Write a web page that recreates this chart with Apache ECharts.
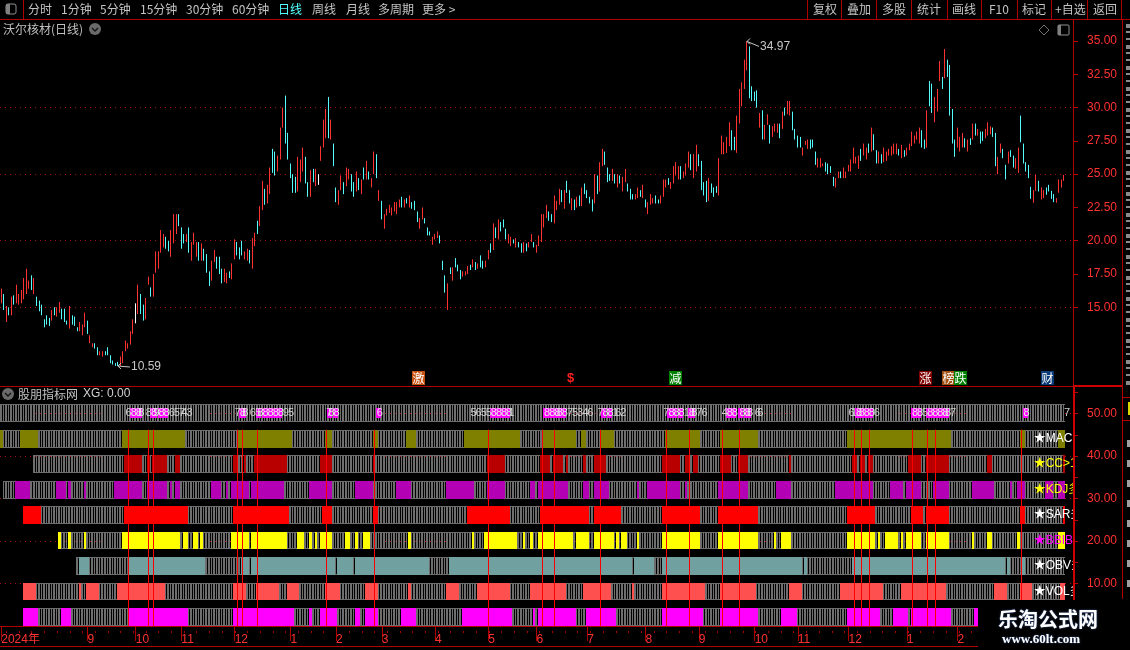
<!DOCTYPE html>
<html><head><meta charset="utf-8">
<style>html,body{margin:0;padding:0;background:#000}#c{width:1130px;height:650px}</style>
<script src="https://cdn.jsdelivr.net/npm/echarts@6/dist/echarts.min.js"></script>
</head><body><div id="c"></div>
<script>
const priceHigh=[
16.4,16.0,15.1,15.0,15.8,15.9,16.7,16.0,16.3,17.2,17.9,17.0,17.4,17.2,15.8,15.5,15.2,14.1,14.4,14.2,
14.8,15.0,15.0,15.4,14.9,14.9,14.0,15.1,14.4,14.3,13.5,13.9,13.7,14.6,14.0,12.9,12.3,12.3,12.0,11.7,
11.7,11.7,12.0,11.4,11.0,10.8,10.9,11.3,11.7,12.5,12.3,13.2,14.1,15.3,16.7,16.0,15.2,15.7,17.3,16.5,
17.5,19.2,19.2,20.8,20.5,20.3,20.0,20.8,22.0,22.0,22.0,21.0,20.5,20.5,21.0,19.9,20.6,19.9,19.9,19.8,
19.4,19.0,17.7,18.5,19.3,18.8,18.8,17.9,17.9,17.6,17.7,18.3,20.1,19.9,19.5,20.0,19.2,19.4,19.3,20.2,
20.6,21.5,22.6,24.5,23.9,24.2,25.5,26.9,26.7,26.4,28.5,30.0,30.9,28.1,25.8,25.0,24.8,26.3,26.1,27.0,
26.3,24.4,25.3,25.4,25.4,25.0,27.1,29.1,29.9,30.8,29.1,27.3,24.0,23.8,24.9,24.4,25.5,25.4,25.0,24.4,
25.2,24.7,24.6,25.5,26.0,25.2,24.7,26.7,26.5,23.8,
23.0,22.0,22.4,22.7,22.5,22.9,22.9,23.1,23.3,23.1,23.2,23.4,22.9,23.0,22.2,21.7,22.5,21.7,21.0,20.7,
20.3,20.5,20.7,20.4,18.5,17.4,16.8,18.0,18.0,18.7,18.2,17.8,17.7,17.7,18.1,18.2,18.6,18.4,18.3,18.9,
18.5,18.5,19.3,19.8,21.3,21.0,21.6,21.4,21.6,20.9,20.5,20.3,20.1,20.2,19.9,19.8,19.9,19.8,19.9,20.5,
19.9,19.7,20.4,22.0,22.0,22.7,22.2,22.0,23.4,23.0,23.9,23.8,23.8,24.5,23.8,23.2,23.1,23.3,23.4,24.0,
24.3,23.8,23.3,23.1,25.0,24.9,25.9,26.9,26.7,25.5,25.0,25.4,25.0,25.0,24.9,24.8,25.4,24.3,23.9,23.5,
23.5,24.0,23.8,24.2,23.1,22.9,23.5,23.2,23.4,23.1,23.4,24.6,24.6,24.7,24.4,25.6,25.9,25.6,25.6,25.2,
25.8,26.7,26.5,26.5,27.2,26.5,26.0,24.4,24.5,24.7,24.3,24.0,24.1,26.2,27.9,27.4,27.8,28.9,28.3,27.8,
29.4,31.4,31.9,33.6,34.97,34.6,
31.6,31.2,31.3,29.6,29.8,28.7,29.5,28.7,28.6,28.8,28.8,28.8,29.7,30.0,30.5,30.5,29.7,28.4,27.9,27.8,
27.0,27.5,27.6,27.6,27.6,26.7,26.2,26.2,25.8,25.9,25.8,25.6,24.8,24.7,25.2,25.2,25.5,25.2,25.7,26.1,
27.0,26.3,26.4,26.9,27.3,27.0,27.3,28.5,28.0,26.8,26.7,26.5,27.0,26.7,26.9,27.1,27.3,27.3,26.9,27.2,
26.8,27.0,27.3,28.2,27.9,28.2,28.5,28.3,27.6,29.8,32.0,31.8,30.8,31.4,33.5,32.3,34.4,33.6,33.2,29.9,
27.6,28.5,27.8,28.1,27.7,27.6,27.7,28.8,28.8,28.4,28.2,28.2,28.4,28.9,28.6,28.5,28.1,26.3,27.3,26.9,
25.7,26.7,26.8,26.4,26.2,27.0,29.4,27.3,25.9,25.7,
24.05,23.8,24.95,24.5,24.0,23.8,24.0,24.2,23.75,23.5,23.2,24.6,24.6,24.95];
const priceLow=[
15.3,14.8,13.9,14.4,14.4,15.2,15.3,15.2,15.3,15.6,16.0,16.4,16.3,16.0,15.1,14.7,14.4,13.5,13.7,13.6,
14.0,14.4,14.3,14.6,14.1,13.9,13.7,13.4,13.7,13.6,13.2,13.2,12.9,13.5,13.0,12.3,12.0,11.9,11.4,11.4,
11.3,11.4,11.4,10.8,10.7,10.6,10.59,10.6,10.8,11.7,11.9,12.2,13.0,13.8,14.5,14.5,14.0,14.1,16.7,15.8,
15.8,17.6,17.9,19.1,19.5,19.4,19.2,18.8,19.8,20.5,21.1,19.4,19.8,19.9,19.1,18.5,19.7,18.8,18.5,18.5,
18.5,17.6,16.6,17.0,18.4,17.9,17.5,16.8,16.9,16.8,17.2,17.1,18.6,18.9,18.6,18.9,18.6,18.5,18.3,17.9,
19.6,20.5,21.1,22.3,22.7,22.8,23.5,25.1,24.9,25.2,26.1,28.5,27.3,26.1,24.7,23.6,23.6,23.7,24.4,25.2,
24.3,23.3,23.3,24.4,24.1,24.2,26.0,27.0,27.7,27.7,27.6,25.6,22.9,22.7,23.8,23.5,24.1,24.6,23.7,23.3,
23.7,23.8,23.5,24.6,24.6,24.6,24.0,25.0,24.7,23.0,
21.6,20.9,21.9,22.1,21.9,22.2,22.0,22.5,22.5,22.5,22.8,22.5,22.4,22.3,21.4,20.9,21.6,21.3,20.4,20.4,
19.7,20.1,20.2,19.8,17.8,16.1,14.8,17.5,17.0,18.0,17.7,17.1,17.3,17.4,17.5,17.8,18.0,17.8,17.9,18.0,
17.9,18.0,18.6,19.1,19.3,20.2,20.1,20.7,21.0,20.1,19.8,19.6,19.8,19.5,19.5,19.1,19.1,19.2,19.5,19.9,
19.5,19.1,19.6,19.9,21.0,21.7,21.5,21.4,21.3,22.3,22.7,22.9,22.4,23.6,22.8,22.3,22.3,22.5,22.6,22.6,
23.5,23.2,22.8,22.2,22.8,23.5,23.7,25.6,25.7,24.4,24.5,24.5,24.3,24.0,24.3,23.7,24.4,23.7,23.1,23.1,
23.1,23.2,23.3,23.2,22.5,22.0,22.7,22.8,22.8,22.8,22.8,23.3,24.0,24.2,23.9,24.3,24.9,24.6,24.6,24.7,
24.9,25.5,25.3,24.7,25.2,25.6,23.8,23.4,22.9,23.0,23.6,23.3,23.6,23.4,26.5,26.5,26.6,27.1,26.8,26.8,
26.6,28.8,30.1,31.4,32.8,30.7,
30.5,30.5,30.0,28.5,27.6,27.6,28.7,27.3,27.8,28.2,28.1,27.7,28.4,29.4,29.5,29.4,28.3,27.6,27.0,27.0,
26.4,27.2,26.9,26.9,27.0,25.7,25.5,25.5,25.6,25.2,25.0,25.1,24.1,24.0,24.7,24.7,24.7,24.7,25.2,25.2,
25.8,25.8,25.4,26.0,26.4,26.1,26.6,26.7,26.8,25.8,25.8,25.8,25.9,26.0,26.4,26.4,26.5,26.5,26.4,26.2,
26.3,26.4,26.8,27.1,27.3,27.6,27.3,27.0,26.9,27.0,30.1,29.6,28.9,29.7,32.0,31.4,32.2,32.3,29.4,27.3,
26.3,27.0,26.7,27.0,27.0,26.7,27.2,27.6,27.9,27.9,27.3,27.5,27.7,27.9,28.0,27.8,25.6,25.0,26.6,26.2,
24.6,25.8,26.3,25.5,25.4,25.1,27.4,25.8,25.2,24.7,
23.15,22.85,23.75,23.7,23.1,23.2,23.45,23.7,23.15,22.9,22.85,23.6,24.0,24.5];
const barDirection=
"rcrcrcrrrr"+"rrcrcccccc"+"rcrrcccrcc"+"crrrcrrccr"+"rccccccrrr"+"rrrwrccrrc"+"rrrrrccrrr"+"cccrcrrrcr"+"cccrrcccrr"+"crrcccrrcr"+
"rcrrcrrccr"+"rrcccccrrr"+"ccrcrwrrrc"+"rccrrcrrcc"+"rcrcrcrrcr"+
"crrrrrrrcr"+"crcccrrccc"+"rrrcccrcrc"+"ccrrrcrcrc"+"crrcrcrccc"+"rrcrccrcrr"+"crrrrrccrr"+"rcrccrcrcr"+"ccccrcrrcc"+"crcrcrrccc"+
"rrcrcrrrcc"+"rrrcrrrrcr"+"rrcrrccccr"+"cccrrrrrcc"+"rrrrrc"+
"cccrcrrcrr"+"rcrcrrcccc"+"rrrcccrrrc"+"cccrrcrrrr"+"rrrcrrcrcc"+"rcrrrrrrcr"+"crrrrrrccr"+"ccrrrcrccc"+"crrrcrcrcr"+"ccrrrccrrc"+"crccrrcccc"+
"crrcrrccccrrrr";
const monthIdx=[0,34,53,71,92,114,132,150,171,192,211,231,254,275,297,314,334,357,377];
const monthLabels=["2024年","9","10","11","12","1","2","3","4","5","6","7","8","9","10","11","12","1","2"];
const pricePerTick=[35,32.5,30,27.5,25,22.5,20,17.5,15];
const priceDotted=[30,25,20,15];
const lowerTicks=[10,20,30,40,50];
const lowerMinor=[5,10,15,20,25,30,35,40,45,50,55];
const rowBase=[48,42,36,30,24,18,12,6,0];
const rowStart=[0,0,13,1,9,23,30,9,9];
const rowColor=["#6e6e6e","#808000","#b80000","#b400b4","#ff0000","#ffff00","#70a0a0","#ff5050","#ff00ff"];
const rowSegs=[
[],
[[0,0],[8,14],[48,72],[94,114],[128,130],[147,148],[160,163],[183,204],[214,226],[229,230],[237,241],[262,275],[284,298],[334,374],[402,403],[417,419]],
[[49,55],[58,58],[60,65],[69,70],[92,93],[96,96],[100,112],[126,130],[147,147],[192,198],[213,216],[218,221],[223,223],[230,230],[234,238],[261,267],[270,271],[273,274],[284,287],[291,294],[311,311],[336,337],[339,340],[342,343],[358,362],[365,373],[389,390],[419,419]],
[[6,11],[22,25],[27,27],[33,33],[45,55],[58,65],[67,67],[69,70],[83,86],[89,89],[91,97],[99,111],[122,130],[140,146],[156,161],[176,186],[192,198],[209,210],[212,223],[230,231],[234,239],[251,251],[255,267],[270,270],[283,294],[306,311],[329,343],[351,355],[357,362],[368,373],[383,391],[398,398],[401,403],[412,414],[417,419]],
[[9,15],[49,73],[92,113],[127,130],[147,148],[184,200],[213,231],[234,244],[261,275],[283,298],[334,344],[359,363],[365,373],[402,403],[419,419]],
[[23,23],[27,27],[33,33],[48,70],[72,73],[76,77],[79,79],[91,97],[99,112],[117,119],[122,122],[124,124],[126,130],[136,137],[140,140],[143,145],[161,161],[186,186],[191,203],[206,206],[209,209],[212,225],[227,231],[234,241],[243,243],[245,246],[251,251],[261,275],[283,298],[305,305],[308,311],[334,344],[346,346],[349,353],[355,355],[357,362],[365,373],[383,383],[389,390],[401,401],[417,419]],
[[31,34],[51,80],[95,97],[99,131],[133,138],[140,168],[177,248],[250,257],[261,315],[317,317],[336,395],[397,397],[403,403]],
[[9,13],[31,31],[34,38],[46,64],[92,96],[101,109],[113,117],[128,133],[144,148],[161,161],[176,180],[188,200],[209,222],[230,240],[249,249],[261,269],[270,277],[284,297],[311,315],[331,347],[355,372],[392,396],[402,406],[418,419]],
[[9,14],[24,27],[51,73],[92,115],[122,122],[126,132],[140,141],[144,148],[158,163],[182,201],[210,210],[212,226],[231,242],[261,276],[284,298],[308,313],[334,346],[352,357],[359,374],[384,385]]
];
const signalLines=[50,58,60,93,95,101,128,147,192,213,218,236,262,271,284,291,336,339,342,359,365,368,402];
const digitDay=[49,51,52.6,54,56.8,58.5,60,62.4,64,66.4,68,69.6,71.2,73,92,93.6,95.3,98,99.6,101,103,105,107,109,111,113,127.5,129,130.8,148,
184.6,186.6,188.6,190.5,192.9,195,197,198.7,200.3,213.5,215.5,217.5,219.4,221.4,223.4,225.4,227.3,229.3,231.3,234.6,236.5,238.5,240.7,242.4,244.1,
261.2,263.1,265.2,266.8,268.7,270.7,272,274,275.7,283.8,285.8,287.5,290.7,292.8,294.3,296.7,298.3,333.8,335,336.7,338.4,340.4,342.3,344.3,
359.4,361.1,363.4,365.3,367,369,370.6,372.2,373.5,402.8,419];
const digitText="68888898865743"+"788658888895"+"7886"+"565588881"+"8888875346788162"+"788818876"+"48888866"+"6188886"+"885888887"+"87";
const digitHot=new Set([51,52.6,54,58.5,60,62.4,64,93.6,95.3,101,103,105,107,109,129,130.8,148,192.9,195,197,198.7,213.5,215.5,217.5,219.4,221.4,236.5,238.5,263.1,265.2,266.8,270.7,272,285.8,287.5,290.7,292.8,294.3,336.7,338.4,340.4,342.3,359.4,361.1,365.3,367,369,370.6,372.2,402.8]);
const rowTags=["","★MACD","★CC>1","★KDJ多","★SAR多","★BBIBOLL","★OBV多","★VOL多",""];
const rowTagColor=["","#ffffff","#ffff00","#ffff00","#ffffff","#ff00ff","#ffffff","#ffffff",""];
const newsTags=[["激",412,13,"#c85010"],["涨",919,13,"#800000"],["榜",942,12,"#a05010"],["跌",954,13,"#008000"],["减",669,13,"#008000"],["财",1041,13,"#0a3a78"]];
const annotations=[[294,34.97,"34.97",12,5],[46,10.59,"10.59",12,1]];
const toolLeft=[["分时",28],["1分钟",61],["5分钟",100],["15分钟",140],["30分钟",186],["60分钟",232],["日线",278,"#55ffff"],["周线",312],["月线",346],["多周期",378],["更多 >",422]];
const toolRight=[["复权",813],["叠加",847],["多股",882],["统计",917],["画线",952],["F10",989],["标记",1022],["+自选",1055],["返回",1093]];
const toolSeps=[23,807,841,876,911,947,981,1017,1051,1087,1121];

const N=423, ROW_H=4.2, FONT='"Liberation Sans","Noto Sans CJK SC",sans-serif', CJK='"Noto Sans CJK SC",sans-serif';
const RED="#ff3232", LINE="#b00000";
const categories=Array.from({length:N},(_,i)=>{const k=monthIdx.indexOf(i);return k>=0?monthLabels[k]:"";});
const n=priceHigh.length;
const candle=[];
for(let i=0;i<n;i++){
  const d=barDirection[i]||'r', h=priceHigh[i], l=priceLow[i];
  const v=d==='c'?[h,l,l,h]:[l,h,l,h];
  candle.push(d==='w'?{value:v,itemStyle:{color:"#fff",borderColor:"#fff"}}:v);
}
const cells=[];
rowStart.forEach((s,r)=>{
  const on=new Uint8Array(420);
  rowSegs[r].forEach(p=>{for(let i=p[0];i<=p[1];i++)on[i]=1;});
  for(let i=s;i<420;i++)cells.push([i,r,on[i]]);
});
function cellItem(params,api){
  const i=api.value(0),r=api.value(1),on=api.value(2);
  const lo=api.coord([i,rowBase[r]]),hi=api.coord([i,rowBase[r]+ROW_H]);
  const band=api.size([1,0])[0];
  const x0=Math.round(lo[0]-band/2),x1=Math.round(lo[0]+band/2);
  const yt=Math.round(hi[1]),yb=Math.round(lo[1]),h=yb-yt;
  if(on)return {type:'rect',shape:{x:x0,y:yt,width:x1-x0,height:h},style:{fill:rowColor[r]}};
  const g=rowColor[0];
  return {type:'group',children:[
    {type:'rect',shape:{x:x0,y:yt,width:x1-x0-1,height:h},style:{fill:g}},
    {type:'rect',shape:{x:x0,y:yt,width:x1-x0,height:1},style:{fill:g}},
    {type:'rect',shape:{x:x0,y:yb-1,width:x1-x0,height:1},style:{fill:g}}]};
}
function signalItem(params,api){
  const a=api.coord([api.value(0),0]),b=api.coord([api.value(0),46.2]);
  return {type:'rect',shape:{x:Math.round(a[0]),y:b[1],width:1,height:a[1]-b[1]},style:{fill:"#ff0000"}};
}
const mid=48+ROW_H/2;
function hotItem(params,api){
  const p=api.coord([api.value(0),mid]);
  return {type:'rect',shape:{x:Math.round(p[0])-1,y:Math.round(p[1])-5,width:5,height:10},style:{fill:"#ff00ff"}};
}
function digitItem(params,api){
  const p=api.coord([api.value(0),mid]);
  return {type:'text',style:{text:String(api.value(1)),x:p[0],y:p[1],align:'left',verticalAlign:'middle',fill:api.value(2)?"#e8e8e8":"#d0d0d0",font:'11px '+FONT}};
}
function tagItem(params,api){
  const r=api.value(1),p=api.coord([api.value(0),rowBase[r]+ROW_H/2]);
  return {type:'text',style:{text:rowTags[r],x:p[0],y:p[1],align:'left',verticalAlign:'middle',fill:rowTagColor[r],font:'12px '+FONT}};
}
function annItem(params,api){
  const a=annotations[params.dataIndex],p=api.coord([a[0],a[1]]);
  const ex=p[0]+a[3],ey=p[1]+a[4];
  return {type:'group',children:[
   {type:'polyline',shape:{points:[[p[0],p[1]],[ex,ey]]},style:{stroke:"#c8c8c8",lineWidth:1,fill:null}},
   {type:'polyline',shape:{points:[[p[0]+3,p[1]-3],[p[0],p[1]],[p[0]+3,p[1]+3]]},style:{stroke:"#c8c8c8",lineWidth:1,fill:null}},
   {type:'text',style:{text:a[2],x:ex+1,y:ey,align:'left',verticalAlign:'middle',fill:"#c8c8c8",font:'12px '+FONT}}]};
}
const g=[];
const T=(text,x,y,fill,font,extra)=>g.push(Object.assign({type:'text',x,y,z:50,silent:true,style:Object.assign({text,fill:fill||"#c4c4c4",font:font||('12px '+CJK),verticalAlign:'middle'},extra||{})}));
const R=(x,y,w,h,fill,z)=>g.push({type:'rect',z:z||40,silent:true,shape:{x,y,width:w,height:h},style:{fill}});
toolLeft.forEach(t=>T(t[0],t[1],9.5,t[2]));
toolRight.forEach(t=>T(t[0],t[1],9.5));
toolSeps.forEach(x=>R(x,0,1,19,LINE));
R(0,19,1130,1,LINE); R(0,386,1073,1,LINE); R(1073,385,49,2,"#d00000");
R(1073,19,1,367,LINE); R(1073,386,2,264,"#d00000");
R(0,646,978,1,LINE); R(1122,19,1,580,LINE);
for(let x=6;x<1073;x+=12.7)R(Math.round(x),631,1,2,LINE);
g.push({type:'rect',z:50,silent:true,shape:{x:6,y:4,width:10,height:10,r:2},style:{fill:null,stroke:"#909090",lineWidth:1}});
R(6,4,4,10,"#808080",51);
T("沃尔核材(日线)",3,29,"#c0c0c0",'12px '+CJK);
const chevron=(x,y)=>{g.push({type:'circle',z:50,silent:true,shape:{cx:x,cy:y,r:6},style:{fill:"#6a6a6a"}});
 g.push({type:'polyline',z:51,silent:true,shape:{points:[[x-3,y-1],[x,y+2],[x+3,y-1]]},style:{stroke:"#111",lineWidth:1.3,fill:null}});};
chevron(95,29); chevron(8,394);
T("股朋指标网",18,394,"#c0c0c0",'12px '+CJK); T("XG: 0.00",83,394,"#d0d0d0",'12px '+FONT);
g.push({type:'polygon',z:50,silent:true,shape:{points:[[1044,25],[1049,30],[1044,35],[1039,30]]},style:{fill:null,stroke:"#707070"}});
g.push({type:'rect',z:50,silent:true,shape:{x:1058,y:25,width:11,height:10,r:1},style:{fill:null,stroke:"#909090"}});
R(1058,25,3,10,"#808080",51);
newsTags.forEach(t=>{R(t[1],371,t[2],14,t[3]);T(t[0],t[1]+0.5,378,"#fff",'12px '+CJK);});
T("$",567,378,"#ff2020",'bold 13px '+FONT);
for(let y=24;y<384;y+=7){R(1126,y,4,y%3?2:4,"#8a8a8a");}
[440,460,480,500,520,540,560,580].forEach(y=>R(1127,y,3,7,"#a0a0a0"));
R(1122,397,8,1,LINE);R(1122,420,8,1,LINE);R(1128,402,2,13,"#d8d800");
R(978,600,152,50,"#000",60);
const wm={fill:"#fff",textShadowColor:"#3a5a9a",textShadowBlur:2};
g.push({type:'text',x:998,y:619,z:61,silent:true,style:Object.assign({text:"乐淘公式网",font:'bold 20px '+CJK,verticalAlign:'middle'},wm)});
g.push({type:'text',x:1002,y:640,z:61,silent:true,style:Object.assign({text:"www.60lt.com",font:'bold 13px "Liberation Serif",serif',verticalAlign:'middle'},wm)});

const chart=echarts.init(document.getElementById('c'),null,{renderer:'canvas'});
const dot={type:[1,4],color:"#a01010",width:1};
chart.setOption({
 backgroundColor:"#000",animation:false,
 graphic:{elements:g},
 grid:[{left:0,top:20,width:1073,height:366,containLabel:false,outerBoundsMode:'none'},{left:0,top:387,width:1073,height:244,containLabel:false,outerBoundsMode:'none'}],
 xAxis:[
  {type:'category',gridIndex:0,data:categories,boundaryGap:true,axisLine:{show:false},axisTick:{show:false},axisLabel:{show:false},splitLine:{show:false}},
  {type:'category',gridIndex:1,data:categories,boundaryGap:true,
   axisLine:{show:true,lineStyle:{color:LINE,width:1}},
   axisTick:{show:true,alignWithLabel:true,length:15,interval:(i)=>monthIdx.includes(i),lineStyle:{color:LINE}},
   axisLabel:{show:true,interval:(i)=>monthIdx.includes(i),color:RED,fontFamily:FONT,fontSize:12,align:'left',margin:3},splitLine:{show:false}}],
 yAxis:[
  {type:'value',gridIndex:0,position:'right',min:9.09,max:36.58,axisLine:{show:false},
   axisTick:{show:true,length:5,customValues:pricePerTick,lineStyle:{color:"#c00000"}},
   axisLabel:{show:true,customValues:pricePerTick,color:RED,fontFamily:FONT,fontSize:12,margin:14,formatter:v=>v.toFixed(2)},splitLine:{show:false}},
  {type:'value',gridIndex:1,position:'right',min:-1.18,max:56.24,axisLine:{show:false},
   axisTick:{show:true,length:5,customValues:lowerMinor,lineStyle:{color:"#c00000"}},
   axisLabel:{show:true,customValues:lowerTicks,color:RED,fontFamily:FONT,fontSize:12,margin:14,formatter:v=>v.toFixed(2)},splitLine:{show:false}}],
 series:[
  {type:'candlestick',xAxisIndex:0,yAxisIndex:0,data:candle,barWidth:1,z:3,
   itemStyle:{color:"#ff3232",color0:"#54fcfc",borderColor:"#ff3232",borderColor0:"#54fcfc",borderWidth:1},
   markLine:{silent:true,symbol:'none',z:1,label:{show:false},lineStyle:dot,data:priceDotted.map(v=>({yAxis:v}))}},
  {type:'custom',xAxisIndex:0,yAxisIndex:0,data:annotations.map(a=>[a[0],a[1]]),renderItem:annItem,z:6,clip:false,silent:true},
  {type:'line',xAxisIndex:1,yAxisIndex:1,data:[],z:1,markLine:{silent:true,symbol:'none',z:1,label:{show:false},lineStyle:dot,data:lowerTicks.map(v=>({yAxis:v}))}},
  {type:'custom',xAxisIndex:1,yAxisIndex:1,data:cells,renderItem:cellItem,encode:{x:0},z:4,clip:false,silent:true},
  {type:'custom',xAxisIndex:1,yAxisIndex:1,data:signalLines.map(v=>[v]),renderItem:signalItem,encode:{x:0},z:5,clip:false,silent:true},
  {type:'custom',xAxisIndex:1,yAxisIndex:1,data:digitDay.filter(d=>digitHot.has(d)).map(d=>[d]),renderItem:hotItem,encode:{x:0},z:6,clip:false,silent:true},
  {type:'custom',xAxisIndex:1,yAxisIndex:1,data:digitDay.map((d,i)=>[d,digitText[i]||'8',digitHot.has(d)?1:0]),dimensions:[{name:'d',type:'number'},{name:'t',type:'ordinal'},{name:'h',type:'number'}],renderItem:digitItem,encode:{x:0},z:7,clip:false,silent:true},
  {type:'custom',xAxisIndex:1,yAxisIndex:1,data:rowTags.map((t,r)=>t?[407,r]:null).filter(Boolean),renderItem:tagItem,encode:{x:0},z:8,clip:true,silent:true}
 ]
});
</script></body></html>
